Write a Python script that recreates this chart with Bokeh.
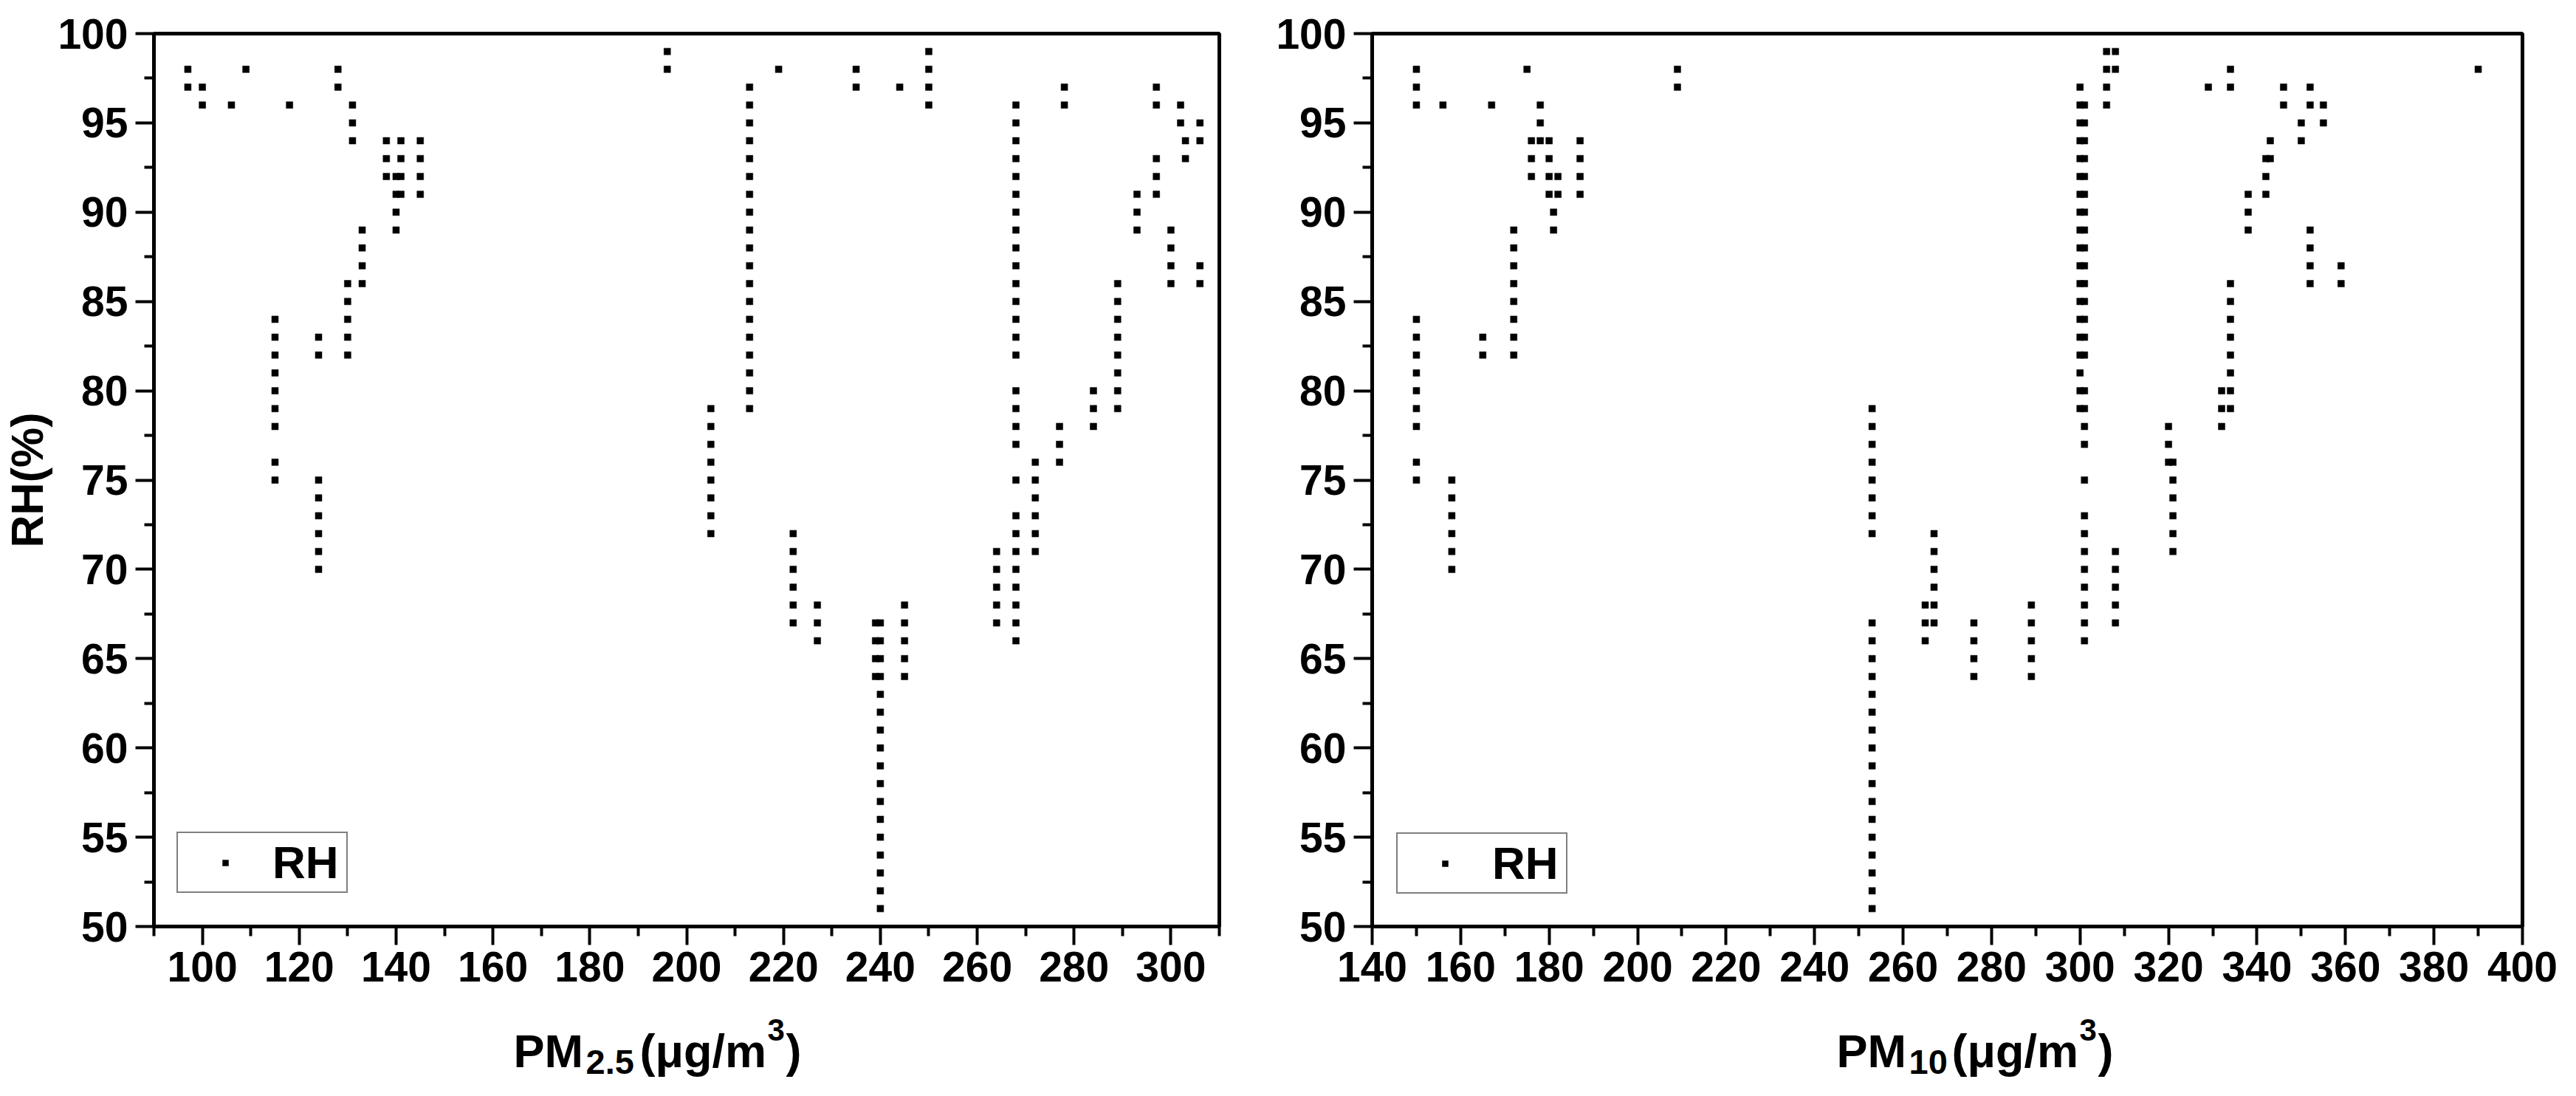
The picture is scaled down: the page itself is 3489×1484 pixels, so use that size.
import math
from bokeh.plotting import figure
from bokeh.layouts import row, column
from bokeh.models import FixedTicker, Range1d, Legend, LegendItem, ColumnDataSource
from bokeh.embed import file_html
from bokeh.resources import INLINE
from bokeh.core.properties import value

# ---------------- data ----------------
# PM2.5 panel: each PM2.5 value with the RH values plotted at it
pm25_x = [97, 100, 106, 109, 115, 118, 124, 128, 130, 131, 133, 138, 140, 141, 145,
          196, 205, 213, 219, 222, 227, 235, 239, 240, 244, 245, 250,
          264, 268, 272, 277, 278, 284, 289, 293, 297, 300, 302, 303, 306]
pm25_rh = [
    [98, 97], [97, 96], [96], [98],
    [84, 83, 82, 81, 80, 79, 78, 76, 75],
    [96],
    [83, 82, 75, 74, 73, 72, 71, 70],
    [98, 97],
    [86, 85, 84, 83, 82],
    [96, 95, 94],
    [89, 88, 87, 86],
    [94, 93, 92],
    [92, 91, 90, 89],
    [94, 93, 92, 91],
    [94, 93, 92, 91],
    [99, 98],
    [79, 78, 77, 76, 75, 74, 73, 72],
    [97, 96, 95, 94, 93, 92, 91, 90, 89, 88, 87, 86, 85, 84, 83, 82, 81, 80, 79],
    [98],
    [72, 71, 70, 69, 68, 67],
    [68, 67, 66],
    [98, 97],
    [67, 66, 65, 64],
    [67, 66, 65, 64, 63, 62, 61, 60, 59, 58, 57, 56, 55, 54, 53, 52, 51],
    [97],
    [68, 67, 66, 65, 64],
    [99, 98, 97, 96],
    [71, 70, 69, 68, 67],
    [96, 95, 94, 93, 92, 91, 90, 89, 88, 87, 86, 85, 84, 83, 82, 80, 79, 78, 77, 75,
     73, 72, 71, 70, 69, 68, 67, 66],
    [76, 75, 74, 73, 72, 71],
    [78, 77, 76],
    [97, 96],
    [80, 79, 78],
    [86, 85, 84, 83, 82, 81, 80, 79],
    [91, 90, 89],
    [97, 96, 93, 92, 91],
    [89, 88, 87, 86],
    [96, 95],
    [94, 93],
    [95, 94, 87, 86],
]

# PM10 panel
pm10_x = [150, 156, 158, 165, 167, 172, 175, 176, 178, 180, 181, 182, 187, 209,
          253, 265, 267, 276, 289, 300, 301, 306, 308,
          320, 321, 329, 332, 334, 338, 342, 343, 346, 350, 352, 355, 359, 390]
pm10_rh = [
    [98, 97, 96, 84, 83, 82, 81, 80, 79, 78, 76, 75],
    [96],
    [75, 74, 73, 72, 71, 70],
    [83, 82],
    [96],
    [89, 88, 87, 86, 85, 84, 83, 82],
    [98],
    [94, 93, 92],
    [96, 95, 94],
    [94, 93, 92, 91],
    [90, 89],
    [92, 91],
    [94, 93, 92, 91],
    [98, 97],
    [79, 78, 77, 76, 75, 74, 73, 72, 67, 66, 65, 64, 63, 62, 61, 60, 59, 58, 57, 56,
     55, 54, 53, 52, 51],
    [68, 67, 66],
    [72, 71, 70, 69, 68, 67],
    [67, 66, 65, 64],
    [68, 67, 66, 65, 64],
    [97, 96, 95, 94, 93, 92, 91, 90, 89, 88, 87, 86, 85, 84, 83, 82, 81, 80, 79],
    [96, 95, 94, 93, 92, 91, 90, 89, 88, 87, 86, 85, 84, 83, 82, 80, 79, 78, 77, 75,
     73, 72, 71, 70, 69, 68, 67, 66],
    [99, 98, 97, 96],
    [99, 98, 71, 70, 69, 68, 67],
    [78, 77, 76],
    [76, 75, 74, 73, 72, 71],
    [97],
    [80, 79, 78],
    [98, 97, 86, 85, 84, 83, 82, 81, 80, 79],
    [91, 90, 89],
    [93, 92, 91],
    [94, 93],
    [97, 96],
    [95, 94],
    [97, 96, 89, 88, 87, 86],
    [96, 95],
    [87, 86],
    [98],
]

# axes
x25_range = (90, 310)
x25_major = [100, 120, 140, 160, 180, 200, 220, 240, 260, 280, 300]
x25_minor = [90, 110, 130, 150, 170, 190, 210, 230, 250, 270, 290, 310]
x10_range = (140, 400)
x10_major = [140, 160, 180, 200, 220, 240, 260, 280, 300, 320, 340, 360, 380, 400]
x10_minor = [150, 170, 190, 210, 230, 250, 270, 290, 310, 330, 350, 370, 390]
y_range = (50, 100)
y_major = [50, 55, 60, 65, 70, 75, 80, 85, 90, 95, 100]
y_minor = [52.5, 57.5, 62.5, 67.5, 72.5, 77.5, 82.5, 87.5, 92.5, 97.5]

series_label = "RH"
y_title = "RH(%)"
x25_title = ["PM", "2.5", "(\u03bcg/m", "3", ")"]
x10_title = ["PM", "10", "(\u03bcg/m", "3", ")"]

FONT = "Liberation Sans"
MAIN_H = 1354     # 45 top + 1209 frame + 100 bottom
TITLE_H = 114


def flatten(xs, ys):
    fx, fy = [], []
    for xv, col in zip(xs, ys):
        for yv in col:
            fx.append(xv)
            fy.append(yv)
    return fx, fy


def make_panel(width, bl, br, xr, xmaj, xmin, xs, ys, legend_loc, with_ytitle):
    p = figure(width=width, height=MAIN_H, x_range=Range1d(*xr), y_range=Range1d(*y_range),
               output_backend="svg", toolbar_location=None,
               min_border_left=bl, min_border_right=br,
               min_border_top=45, min_border_bottom=100)
    p.grid.visible = False
    p.outline_line_color = "black"
    p.outline_line_width = 5
    p.background_fill_color = "white"
    p.border_fill_color = "white"
    p.xaxis.ticker = FixedTicker(ticks=xmaj, minor_ticks=xmin)
    p.yaxis.ticker = FixedTicker(ticks=y_major, minor_ticks=y_minor)
    for ax in (p.xaxis[0], p.yaxis[0]):
        ax.axis_line_width = 5
        ax.axis_line_color = "black"
        ax.major_tick_line_width = 4
        ax.minor_tick_line_width = 4
        ax.major_tick_out = 25
        ax.major_tick_in = 0
        ax.minor_tick_out = 13
        ax.minor_tick_in = 0
        ax.major_label_text_font = FONT
        ax.major_label_text_font_style = "bold"
        ax.major_label_text_font_size = "57px"
        ax.major_label_text_color = "black"
    p.xaxis[0].major_label_standoff = 9
    p.yaxis[0].major_label_standoff = 10
    if with_ytitle:
        ya = p.yaxis[0]
        ya.axis_label = y_title
        ya.axis_label_text_font = FONT
        ya.axis_label_text_font_style = "bold"
        ya.axis_label_text_font_size = "61px"
        ya.axis_label_text_color = "black"
        ya.axis_label_standoff = 4

    fx, fy = flatten(xs, ys)
    src = ColumnDataSource(dict(x=fx, y=fy))
    r = p.scatter("x", "y", source=src, marker="square", size=9,
                  fill_color="black", line_color="black", line_width=0.5)

    leg = Legend(items=[LegendItem(label=series_label, renderers=[r])],
                 location=legend_loc, margin=0, padding=4, spacing=0,
                 glyph_width=120, glyph_height=20, label_standoff=4, label_width=96,
                 label_text_font=FONT, label_text_font_style="bold",
                 label_text_font_size="62px", label_text_color="black",
                 border_line_color="black", border_line_width=2.5,
                 background_fill_color="white", background_fill_alpha=1.0)
    p.add_layout(leg)
    return p


def make_title(width, parts, xpos):
    # a bare strip under the panel holding the x-axis title (pixel coordinates)
    t = figure(width=width, height=TITLE_H, x_range=Range1d(0, width),
               y_range=Range1d(0, TITLE_H), output_backend="svg", toolbar_location=None,
               x_axis_type=None, y_axis_type=None, min_border=0)
    t.grid.visible = False
    t.outline_line_color = None
    t.background_fill_color = "white"
    t.border_fill_color = "white"
    big = [0, 2, 4]
    t.text(x=[xpos[i] for i in big], y=[46] * 3, text=[parts[i] for i in big],
           text_font=value(FONT), text_font_style="bold", text_font_size="63px",
           text_color="black", text_align="left", text_baseline="alphabetic")
    t.text(x=[xpos[1]], y=[31], text=[parts[1]],
           text_font=value(FONT), text_font_style="bold", text_font_size="47px",
           text_color="black", text_align="left", text_baseline="alphabetic")
    t.text(x=[xpos[3]], y=[74], text=[parts[3]],
           text_font=value(FONT), text_font_style="bold", text_font_size="42px",
           text_color="black", text_align="left", text_baseline="alphabetic")
    return t


p1 = make_panel(1712, 204, 61, x25_range, x25_major, x25_minor, pm25_x, pm25_rh,
                (31, 45), True)
p2 = make_panel(1760, 146, 56, x10_range, x10_major, x10_minor, pm10_x, pm10_rh,
                (33, 44), False)
t1 = make_title(1712, x25_title, [695, 793, 866, 1039, 1064])
t2 = make_title(1760, x10_title, [775, 873, 931, 1104, 1129])

layout = column(row(p1, p2), row(t1, t2))
open("out.html", "w").write(file_html(layout, INLINE))
